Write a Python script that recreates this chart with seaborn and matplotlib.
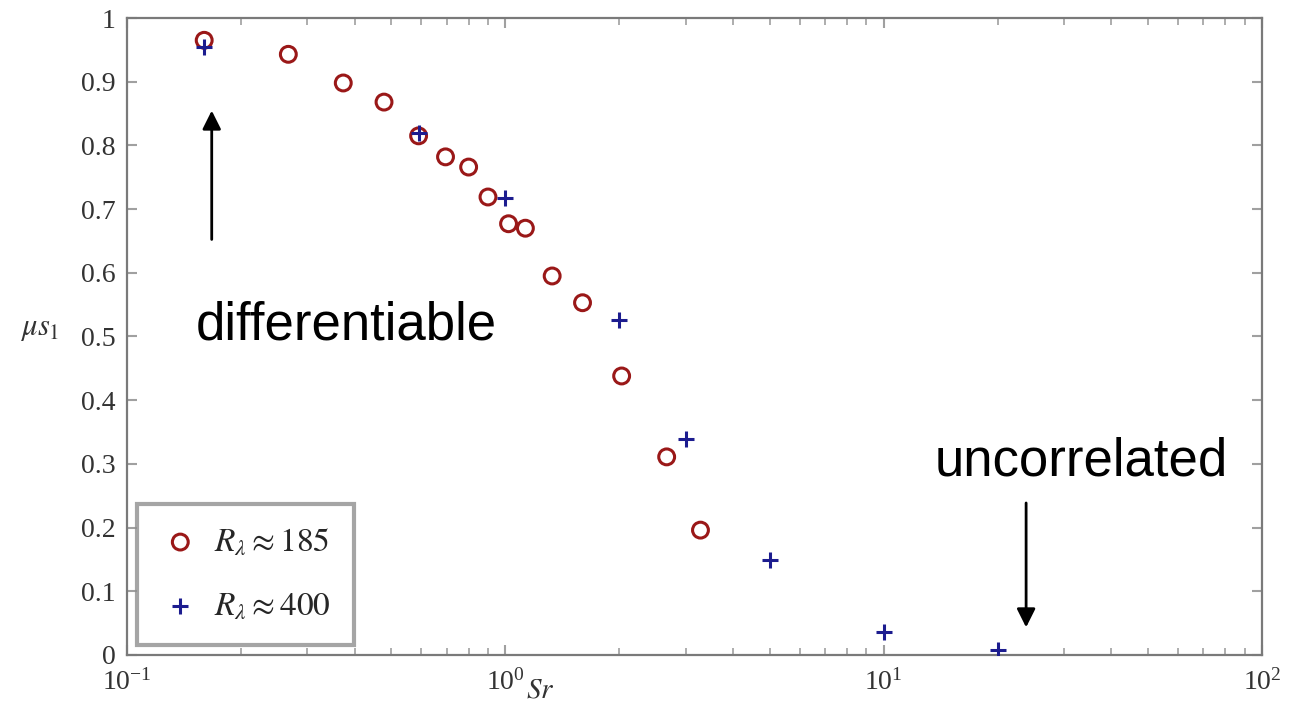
import numpy as np
import pandas as pd
import matplotlib
matplotlib.use("Agg")
import matplotlib.pyplot as plt
import seaborn as sns
from matplotlib.ticker import LogLocator, FixedLocator, FixedFormatter, NullFormatter

# ---- data ----
sr_185 = [0.16, 0.267, 0.373, 0.478, 0.59, 0.695, 0.80, 0.90, 1.02, 1.13, 1.33, 1.60, 2.03, 2.67, 3.28]
mu_185 = [0.965, 0.943, 0.898, 0.868, 0.815, 0.782, 0.766, 0.719, 0.677, 0.670, 0.595, 0.553, 0.438, 0.311, 0.196]
sr_400 = [0.16, 0.59, 1.0, 2.0, 3.0, 5.0, 10.0, 20.0]
mu_400 = [0.955, 0.82, 0.717, 0.526, 0.339, 0.149, 0.036, 0.008]
labels = [r"$R_\lambda \approx 185$", r"$R_\lambda \approx 400$"]
y_ticks = [0, 0.1, 0.2, 0.3, 0.4, 0.5, 0.6, 0.7, 0.8, 0.9, 1.0]
y_tick_labels = ["0", "0.1", "0.2", "0.3", "0.4", "0.5", "0.6", "0.7", "0.8", "0.9", "1"]

sns.set_theme(style="ticks")
plt.rcParams["font.family"] = ["Liberation Serif", "DejaVu Serif"]
plt.rcParams["mathtext.fontset"] = "stix"

df185 = pd.DataFrame({"Sr": sr_185, "mu": mu_185})
df400 = pd.DataFrame({"Sr": sr_400, "mu": mu_400})

fig = plt.figure(figsize=(12.93, 7.09), dpi=100)
ax = fig.add_axes([0.0982, 0.0762, 0.8778, 0.8984])

red = "#9a1818"
blue = "#1c1c8f"
sns.scatterplot(data=df185, x="Sr", y="mu", ax=ax, marker="o", s=130,
                facecolor="none", edgecolor=red, linewidth=2.2, label=labels[0], zorder=3)
sns.scatterplot(data=df400, x="Sr", y="mu", ax=ax, marker="+", s=130,
                color=blue, linewidth=2.2, label=labels[1], zorder=4)

ax.set_xscale("log")
ax.set_xlim(0.1, 100)
ax.set_ylim(0, 1)
ax.yaxis.set_major_locator(FixedLocator(y_ticks))
ax.yaxis.set_major_formatter(FixedFormatter(y_tick_labels))
ax.xaxis.set_major_locator(LogLocator(base=10, numticks=10))
ax.xaxis.set_minor_locator(LogLocator(base=10, subs=np.arange(2, 10), numticks=20))
ax.xaxis.set_minor_formatter(NullFormatter())

spine_c = "#7a7a7a"
for s in ax.spines.values():
    s.set_color(spine_c)
    s.set_linewidth(1.6)
ax.tick_params(axis="both", which="both", direction="in", top=True, right=True,
               color="#a0a0a0", labelsize=20, labelcolor="#333333")
ax.tick_params(which="major", length=7, width=1.5)
ax.tick_params(which="minor", length=5, width=1.2)
ax.tick_params(axis="x", which="major", pad=10)
ax.tick_params(axis="y", which="major", pad=8)

ax.set_xlabel(r"$Sr$", fontsize=21, color="#333333")
ax.xaxis.set_label_coords(0.364, -0.036)
ax.set_ylabel(r"$\mu s_1$", fontsize=22, rotation=0, color="#333333")
ax.yaxis.set_label_coords(-0.077, 0.49)

leg = ax.legend(loc="lower left", fontsize=24, frameon=True, fancybox=False,
                borderpad=0.7, handletextpad=0.4, labelspacing=1.0, handlelength=1.2,
                borderaxespad=0, bbox_to_anchor=(0.0088, 0.0157))
leg.get_frame().set_edgecolor("#8f8f8f")
leg.get_frame().set_linewidth(3)

ax.annotate("", xy=(0.1675, 0.859), xytext=(0.1675, 0.648),
            arrowprops=dict(arrowstyle="-|>", color="black", lw=2, mutation_scale=28))
ax.text(0.152, 0.518, "differentiable", fontsize=38, family="Liberation Sans",
        ha="left", va="center", color="black")
ax.annotate("", xy=(23.8, 0.039), xytext=(23.8, 0.243),
            arrowprops=dict(arrowstyle="-|>", color="black", lw=2, mutation_scale=28))
ax.text(13.6, 0.303, "uncorrelated", fontsize=38, family="Liberation Sans",
        ha="left", va="center", color="black")

fig.savefig("out.png", dpi=100)
